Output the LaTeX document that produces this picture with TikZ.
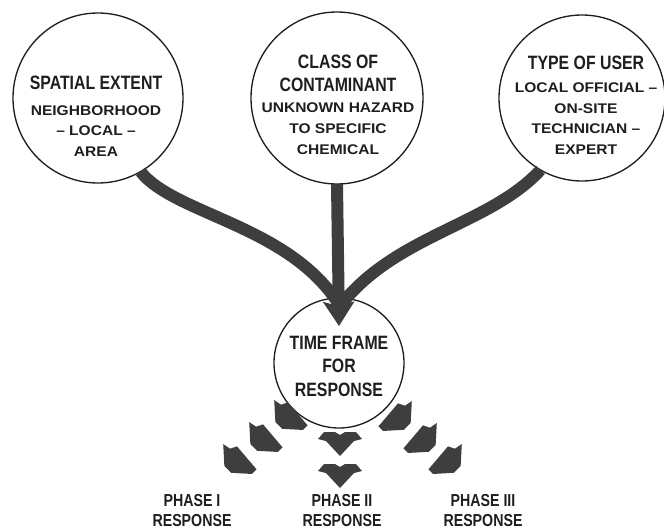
\documentclass[tikz,border=0pt]{standalone}
\usepackage{fontspec}
\setmainfont{Liberation Sans}
\newfontfamily\titrefont{Liberation Sans}[FakeStretch=0.82]
\newfontfamily\detailfont{Liberation Sans}[FakeStretch=1.11]
\usetikzlibrary{arrows.meta}
\definecolor{gris}{HTML}{3E3E3E}
\definecolor{noir}{HTML}{1E1E1E}
\newcommand\entete{\titrefont\bfseries\fontsize{14.5}{17}\selectfont}

\begin{document}
\begin{tikzpicture}[x=0.75pt,y=-0.75pt]
\tikzstyle{flux}=[line width=9pt,draw=gris]
\tikzstyle{morceau}=[fill=gris]
\tikzset{cercle/.style={draw=noir,line width=1pt,circle,inner sep=0pt,outer sep=0pt,minimum size=#1},
cercle/.default={127.5pt}}
\tikzset{texte/.style={anchor=north,align=center,inner sep=0pt,text=noir,
font=\detailfont\bfseries\fontsize{10.5}{15.5}\selectfont},
phase/.style={texte,font=\titrefont\bfseries\fontsize{13}{15}\selectfont}}
\useasboundingbox (0,0) rectangle (664,529);
% les quatre cercles
\node [cercle] (etendue) at (98,98) {};
\node [cercle=129pt] (classe) at (337,98) {};
\node [cercle=124.5pt] (usager) at (582,98) {};
\node [cercle=97.5pt] (delai) at (339,363) {};
% les trois flux qui convergent
\coordinate (jonction) at (340,306);
\draw [flux] (etendue.-60) .. controls (175,215) and (290,225) .. (jonction);
\draw [flux] (usager.-120) .. controls (490,225) and (395,235) .. (jonction);
\draw [flux,-{Stealth[length=18pt,width=23pt,inset=3pt]}] (classe.south) -- ([yshift=-21pt]delai.north);
% petites fleches vers les phases
\foreach \x/\y/\s in {288/415/1, 263/437/1, 237/459/1, 398/416/-1, 423/438/-1, 448/459/-1}
\fill [morceau,shift={(\x,\y)},xscale=\s,scale=1.15] (-12,-13) -- (-6,-9) -- (0,-11) -- (17,9) -- (13,13) -- (-5,12) -- (-11,6) -- cycle;
\foreach \y in {444,476}
\fill [morceau,shift={(340,\y)}] (-16,-12) -- (-5,-12) -- (0,-9) -- (5,-12) -- (16,-12) -- (22,-5) -- (14,-3) -- (0,12) -- (-14,-3) -- (-22,-5) -- cycle;
% textes
\node [texte] (etendue-t) at (96,76) {{\entete SPATIAL EXTENT}\\[3.5pt] NEIGHBORHOOD\\ – LOCAL –\\ AREA};
\node [texte] (classe-t) at (338,55) {{\entete CLASS OF}\\[1.5pt]{\entete CONTAMINANT}\\[0.5pt] UNKNOWN HAZARD\\ TO SPECIFIC\\ CHEMICAL};
\node [texte] (usager-t) at (586,56) {{\entete TYPE OF USER}\\[1.5pt] LOCAL OFFICIAL –\\ ON-SITE\\ TECHNICIAN –\\ EXPERT};
\node [texte,font=\entete] (delai-t) at (339,336) {TIME FRAME\\[0.5pt]FOR\\[0.5pt]RESPONSE};
\node [phase] (phase1) at (192,494) {PHASE I\\RESPONSE};
\node [phase] (phase2) at (342,494) {PHASE II\\RESPONSE};
\node [phase] (phase3) at (483,494) {PHASE III\\RESPONSE};
\end{tikzpicture}
\end{document}
